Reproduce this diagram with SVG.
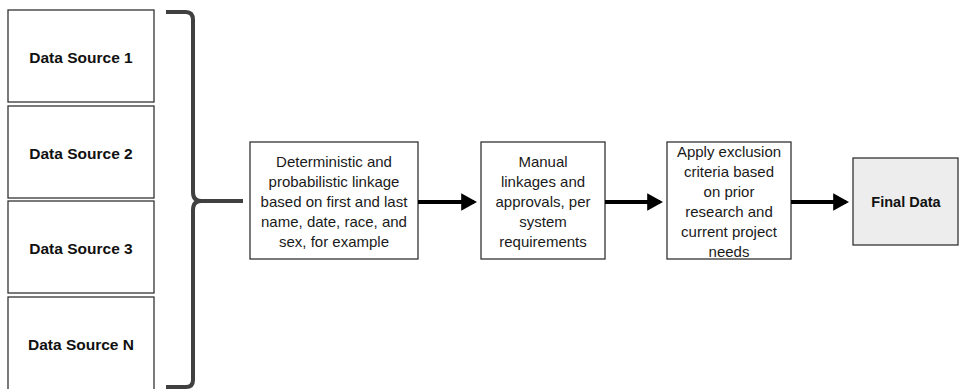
<svg xmlns="http://www.w3.org/2000/svg" width="959" height="389" viewBox="0 0 959 389">
<defs>
<style>
.box{fill:#ffffff;stroke:#333333;stroke-width:1.3}
.fin{fill:#ededed;stroke:#333333;stroke-width:1.3}
.t{font-family:"Liberation Sans",Arial,sans-serif;font-size:15px;fill:#1a1a1a;text-anchor:middle}
.b{font-family:"Liberation Sans",Arial,sans-serif;font-size:15.5px;font-weight:bold;fill:#111111;text-anchor:middle}
.arr{stroke:#000000;stroke-width:4;fill:none;marker-end:url(#ah)}
</style>
<marker id="ah" markerWidth="4" markerHeight="4.4" refX="3.2" refY="2.2" orient="auto" markerUnits="strokeWidth">
<path d="M0,0 L4,2.2 L0,4.4 Z" fill="#000000"/>
</marker>
</defs>
<rect width="959" height="389" fill="#ffffff"/>
<g id="src1"><rect class="box" x="8" y="10" width="146" height="92"/><text class="b" x="81" y="63">Data Source 1</text></g>
<g id="src2"><rect class="box" x="8" y="106" width="146" height="92"/><text class="b" x="81" y="159">Data Source 2</text></g>
<g id="src3"><rect class="box" x="8" y="201" width="146" height="92"/><text class="b" x="81" y="254">Data Source 3</text></g>
<g id="srcN"><rect class="box" x="8" y="297" width="146" height="100"/><text class="b" x="81" y="350">Data Source N</text></g>
<g id="bracket"><path d="M166,12 H186 Q193,12 193,20 V192 Q193,201 201,201 H243 M201,201 Q193,201 193,210 V380 Q193,387 186,387 H166" fill="none" stroke="#404040" stroke-width="4" stroke-linejoin="round"/></g>
<g id="link"><rect class="box" x="250" y="142" width="168" height="117"/>
<text class="t"><tspan x="334" y="167">Deterministic and</tspan><tspan x="334" y="187">probabilistic linkage</tspan><tspan x="334" y="207">based on first and last</tspan><tspan x="334" y="227">name, date, race, and</tspan><tspan x="334" y="247">sex, for example</tspan></text></g>
<g id="manual"><rect class="box" x="481" y="142" width="124" height="117"/>
<text class="t"><tspan x="543" y="167">Manual</tspan><tspan x="543" y="187">linkages and</tspan><tspan x="543" y="207">approvals, per</tspan><tspan x="543" y="227">system</tspan><tspan x="543" y="247">requirements</tspan></text></g>
<g id="apply"><rect class="box" x="667" y="142" width="124" height="117"/>
<text class="t"><tspan x="729" y="157">Apply exclusion</tspan><tspan x="729" y="177">criteria based</tspan><tspan x="729" y="197">on prior</tspan><tspan x="729" y="217">research and</tspan><tspan x="729" y="237">current project</tspan><tspan x="729" y="257">needs</tspan></text></g>
<g id="final"><rect class="fin" x="853" y="158" width="105" height="87"/><text class="b" x="906" y="207" style="font-size:14.5px">Final Data</text></g>
<g id="connectors">
<line class="arr" x1="418" y1="202" x2="474" y2="202"/>
<line class="arr" x1="605" y1="202" x2="660" y2="202"/>
<line class="arr" x1="791" y1="202" x2="846" y2="202"/>
</g>
</svg>
